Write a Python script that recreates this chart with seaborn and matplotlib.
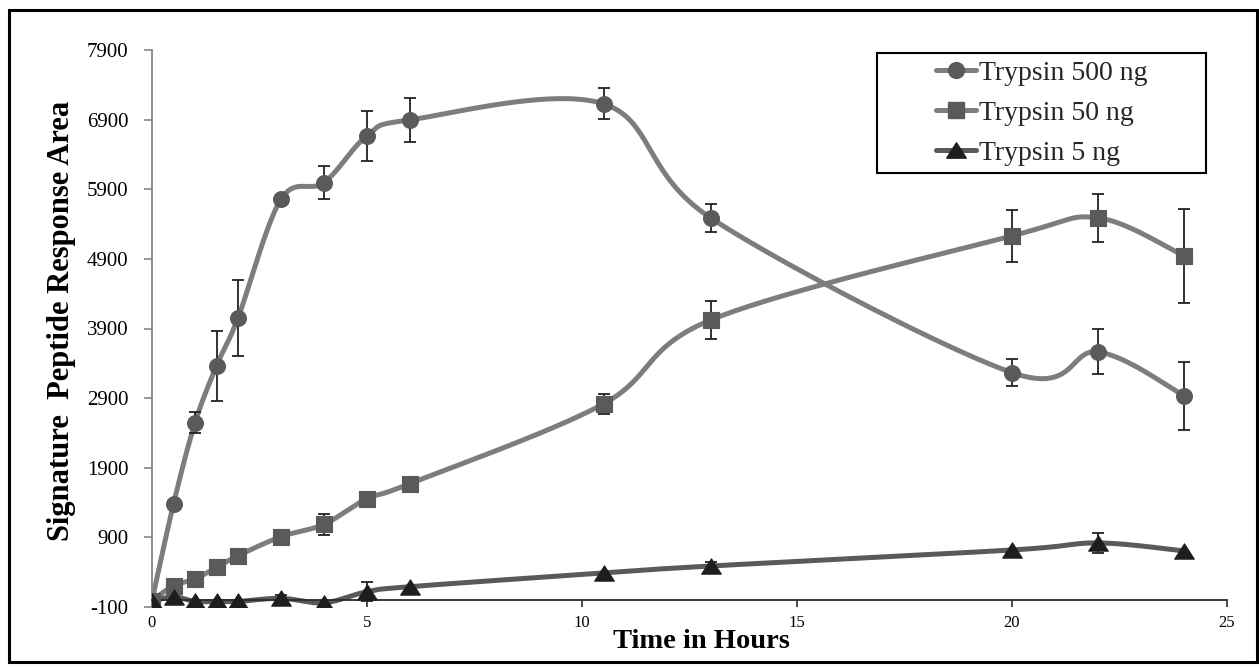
import numpy as np
import pandas as pd
import matplotlib
matplotlib.use("Agg")
import matplotlib.pyplot as plt
import seaborn as sns
from matplotlib.patches import Rectangle
from matplotlib.lines import Line2D
from matplotlib.path import Path

# ---------------- data ----------------
hours = [0, 0.5, 1, 1.5, 2, 3, 4, 5, 6, 10.5, 13, 20, 22, 24]
trypsin_500 = [-10, 1380, 2545, 3363, 4052, 5758, 5996, 6667, 6897, 7127, 5485, 3266, 3564, 2936]
err_500 = [0, 0, 150, 500, 540, 0, 240, 360, 320, 225, 200, 190, 323, 490]
trypsin_50 = [-10, 206, 302, 470, 637, 910, 1088, 1456, 1672, 2817, 4024, 5230, 5489, 4943]
err_50 = [0, 0, 0, 0, 100, 0, 150, 0, 0, 145, 277, 374, 345, 675]
trypsin_5 = [-20, 48, -20, -20, -20, 25, -40, 120, 192, 389, 489, 719, 820, 705]
err_5 = [0, 0, 0, 0, 0, 50, 0, 140, 0, 0, 60, 0, 140, 0]

series_labels = ["Trypsin 500 ng", "Trypsin 50 ng", "Trypsin 5 ng"]
y_ticks = list(range(-100, 7901, 1000))
x_ticks = [0, 5, 10, 15, 20, 25]
x_title = "Time in Hours"
y_title = "Signature  Peptide Response Area"

# ---------------- style ----------------
sns.set_theme(style="ticks")
plt.rcParams['font.family'] = ['Liberation Serif', 'DejaVu Serif']

W, H = 1259, 670
fig = plt.figure(figsize=(W / 100, H / 100), dpi=100)
fig.patch.set_facecolor("white")
ax = fig.add_axes([152 / W, 1 - 607 / H, 1075 / W, 557 / H])
ax.set_facecolor("white")


def smooth(x, y, n=40):
    """Excel-like smoothed line (Catmull-Rom Bezier) through the data points."""
    P = np.column_stack([x, y]).astype(float)
    N = len(P)
    segs = []
    for i in range(N - 1):
        p0 = P[i - 1] if i > 0 else P[i]
        p1, p2 = P[i], P[i + 1]
        p3 = P[i + 2] if i + 2 < N else P[i + 1]
        c1 = p1 + (p2 - p0) / 6.0
        c2 = p2 - (p3 - p1) / 6.0
        t = np.linspace(0, 1, n, endpoint=(i == N - 2))[:, None]
        segs.append((1 - t) ** 3 * p1 + 3 * (1 - t) ** 2 * t * c1
                    + 3 * (1 - t) * t ** 2 * c2 + t ** 3 * p2)
    s = np.vstack(segs)
    return s[:, 0], s[:, 1]


tri = Path([(0, 0.78), (-1, -0.78), (1, -0.78), (0, 0.78)],
           [Path.MOVETO, Path.LINETO, Path.LINETO, Path.CLOSEPOLY])

series = [
    (trypsin_500, err_500, "#7d7d7d", "o", "#5a5a5a", 130),
    (trypsin_50, err_50, "#7d7d7d", "s", "#5a5a5a", 135),
    (trypsin_5, err_5, "#5a5a5a", tri, "#1e1e1e", 200),
]

handles = []
for (vals, errs, lc, mk, mc, ms), lab in zip(series, series_labels):
    sx, sy = smooth(hours, vals)
    df_line = pd.DataFrame({"x": sx, "y": sy})
    sns.lineplot(data=df_line, x="x", y="y", sort=False, estimator=None,
                 color=lc, linewidth=3.6, ax=ax, zorder=2)
    e_idx = [i for i, e in enumerate(errs) if e > 0]
    ax.errorbar([hours[i] for i in e_idx], [vals[i] for i in e_idx],
                yerr=[errs[i] for i in e_idx], fmt="none", ecolor="#222222",
                elinewidth=1.3, capsize=4, capthick=1.3, zorder=3)
    df_pts = pd.DataFrame({"x": hours, "y": vals})
    sns.scatterplot(data=df_pts, x="x", y="y", marker=mk, s=ms, color=mc,
                    edgecolor=mc, linewidth=0.8, ax=ax, zorder=4)
    handles.append(Line2D([0], [0], color=lc, lw=3.6, marker=mk,
                          markersize=np.sqrt(ms), markerfacecolor=mc,
                          markeredgecolor=mc))

# ---------------- axes ----------------
ax.set_xlim(0, 25)
ax.set_ylim(-100, 7900)
ax.set_xticks(x_ticks)
ax.set_xticklabels([str(v) for v in x_ticks])
ax.set_yticks(y_ticks)
ax.set_yticklabels([str(v) for v in y_ticks])
ax.set_xlabel("")
ax.set_ylabel("")
ax.spines['top'].set_visible(False)
ax.spines['right'].set_visible(False)
ax.spines['bottom'].set_position(('data', 0))
ax.spines['bottom'].set_color("#2b2b2b")
ax.spines['bottom'].set_linewidth(1.3)
ax.spines['left'].set_color("#868686")
ax.spines['left'].set_linewidth(1.3)
ax.tick_params(axis='y', left=True, direction='out', length=6, width=1.2,
               color="#868686", labelsize=15, labelcolor="black", pad=11)
ax.tick_params(axis='x', bottom=True, direction='out', length=5, width=1.2,
               color="#2b2b2b", labelsize=12, labelcolor="black", pad=6)
ax.grid(False)

fig.text(701 / W, 1 - 641 / H, x_title, ha="center", va="center",
         fontsize=20.5, fontweight="bold", color="black")
fig.text(62 / W, 1 - 321 / H, y_title, ha="center", va="center",
         rotation=90, fontsize=22, fontweight="bold", color="black")

# ---------------- legend ----------------
leg = ax.legend(handles, series_labels, loc="center",
                bbox_to_anchor=(1041.5 / W, 1 - 113 / H),
                bbox_transform=fig.transFigure, frameon=False,
                fontsize=20, handlelength=1.45, handletextpad=0.1,
                labelspacing=0.52, borderpad=0.2)
fig.add_artist(Rectangle((877 / W, 1 - 173 / H), 329 / W, 120 / H,
                         transform=fig.transFigure, fill=False,
                         edgecolor="black", linewidth=1.5))

# outer chart frame
fig.add_artist(Rectangle((9 / W, 1 - 662 / H), 1248 / W, 652 / H,
                         transform=fig.transFigure, fill=False,
                         edgecolor="black", linewidth=2.2))

fig.savefig("out.png", dpi=100, facecolor="white")
